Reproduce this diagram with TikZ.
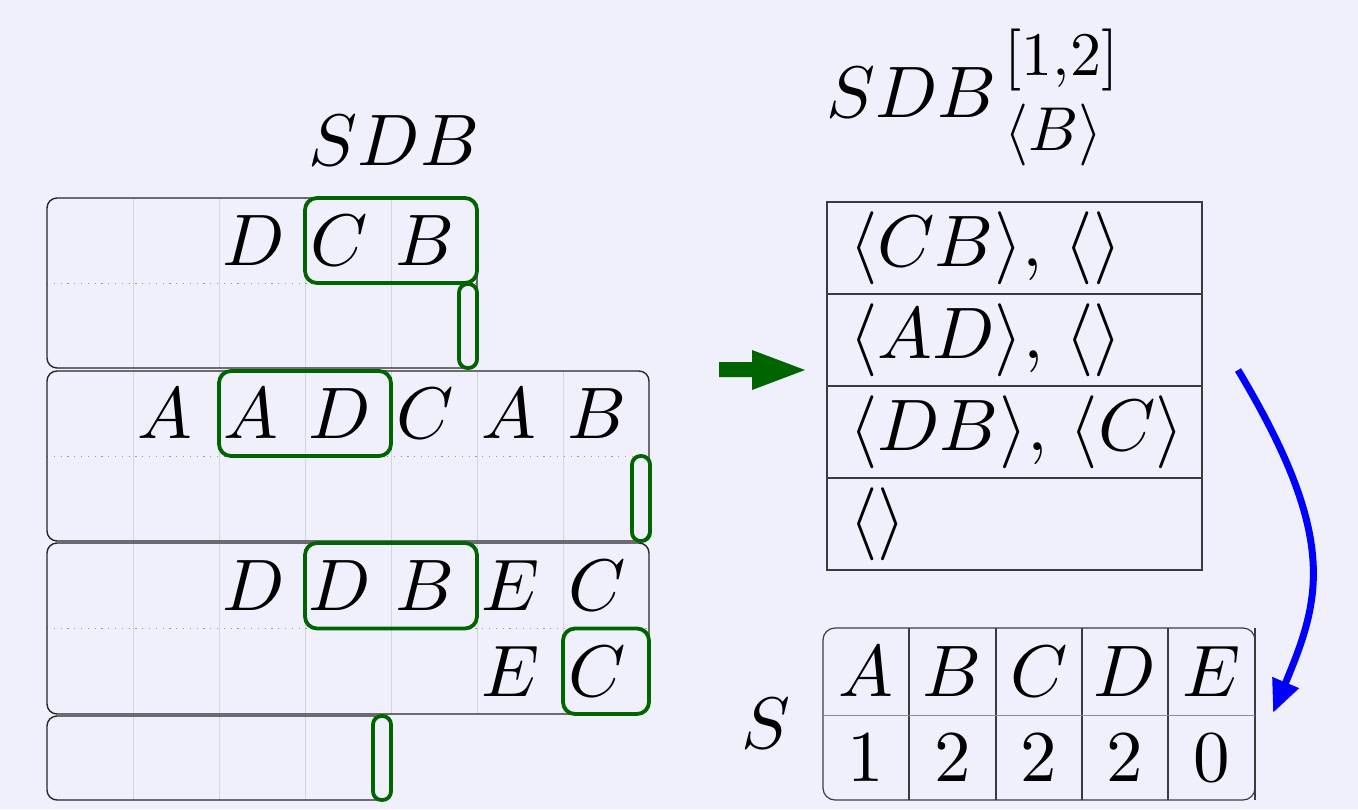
\RequirePackage{fix-cm}
\documentclass[tikz,border=0pt]{standalone}
\usetikzlibrary{arrows.meta}
% large glyphs drawn from the 10pt design sizes
\DeclareFontShape{OML}{cmm}{m}{it}{<->cmmi10}{}
\DeclareFontShape{OMS}{cmsy}{m}{n}{<->cmsy10}{}
\DeclareFontShape{OT1}{cmr}{m}{n}{<->cmr10}{}

\definecolor{bg}{RGB}{240,240,252}
\definecolor{seqgreen}{RGB}{0,100,0}
\definecolor{gridgray}{RGB}{212,212,222}
\definecolor{rulegray}{RGB}{60,60,60}
\newcommand\hugemath{\fontsize{73}{88}\selectfont}
\newcommand\scriptmath{\fontsize{62}{70}\selectfont}

\begin{document}
\begin{tikzpicture}[x=1pt,y=-1pt,
  every node/.style={inner sep=0pt, font=\hugemath},
  item/.style={anchor=base},
  blockframe/.style={draw=black!85, line width=1.4pt, rounded corners=10pt},
  gridline/.style={draw=gridgray, line width=0.9pt},
  midline/.style={draw=black!40, line width=0.9pt, dash pattern=on 1.2pt off 5.6pt},
  hit/.style={draw=seqgreen, line width=3.8pt, rounded corners=12pt},
  endmark/.style={draw=seqgreen, line width=3.8pt, rounded corners=8.5pt},
  tablerule/.style={draw=rulegray, line width=1.2pt},
]
% canvas
\fill[bg] (0,0) rectangle (1358,809);
\useasboundingbox (0,0) rectangle (1358,809);

% ---------- sequence database: column grid ----------
\foreach \x in {133,219,305,391} \draw[gridline] (\x,198) -- (\x,368);
\foreach \x in {133,219,305,391,477,563} {
  \draw[gridline] (\x,371) -- (\x,541);
  \draw[gridline] (\x,543) -- (\x,714);
}
\foreach \x in {133,219,305} \draw[gridline] (\x,716) -- (\x,800);

% separators between the two itemset rows
\draw[midline] (47,283) -- (477,283);
\draw[midline] (47,456) -- (649,456);
\draw[midline] (47,628.5) -- (649,628.5);

% one frame per sequence
\draw[blockframe] (47,198) rectangle (477,368);
\draw[blockframe] (47,371) rectangle (649,541);
\draw[blockframe] (47,543) rectangle (649,714);
\draw[blockframe] (47,716) rectangle (391,800);

% title
\node[item] (sdb) at (394,165) {$SDB$};

% sequence 1
\node[item] (s1c3) at (254,265.5) {$D$};
\node[item] (s1c4) at (339,265.5) {$C$};
\node[item] (s1c5) at (425,265.5) {$B$};

% sequence 2
\node[item] (s2c2) at (165,438.5) {$A$};
\node[item] (s2c3) at (251,438.5) {$A$};
\node[item] (s2c4) at (340,438.5) {$D$};
\node[item] (s2c5) at (425,438.5) {$C$};
\node[item] (s2c6) at (509,438.5) {$A$};
\node[item] (s2c7) at (597,438.5) {$B$};

% sequence 3
\node[item] (s3c3) at (254,610.5) {$D$};
\node[item] (s3c4) at (340,610.5) {$D$};
\node[item] (s3c5) at (425,610.5) {$B$};
\node[item] (s3c6) at (511,610.5) {$E$};
\node[item] (s3c7) at (597,610.5) {$C$};
\node[item] (s3d6) at (511,696) {$E$};
\node[item] (s3d7) at (597,696) {$C$};

% highlighted occurrences and end markers
\draw[hit] (305,198) rectangle (477,283);
\draw[endmark] (459,284) rectangle (477,368);
\draw[hit] (219,371) rectangle (391,456);
\draw[endmark] (632,456) rectangle (650,541);
\draw[hit] (305,543) rectangle (477,628.5);
\draw[hit] (563,628.5) rectangle (649,714);
\draw[endmark] (373,716) rectangle (391,800);

% ---------- projection arrow ----------
\fill[seqgreen] (719,362) -- (752,362) -- (752,350) -- (805,370)
  -- (752,390) -- (752,377) -- (719,377) -- cycle;

% ---------- projected database ----------
\node[anchor=base west] (proj) at (826,117)
  {$SDB$\kern8pt\rlap{\raisebox{42pt}{\scriptmath$[1{,}2]$}}\raisebox{-33pt}{\scriptmath$\langle B\rangle$}};
\draw[tablerule] (827,202) rectangle (1202,570);
\foreach \y in {294,386,478} \draw[tablerule] (827,\y) -- (1202,\y);
\node[anchor=base west] (p1) at (849,266) {$\langle CB\rangle,$ $\langle\rangle$};
\node[anchor=base west] (p2) at (849,358) {$\langle AD\rangle,$ $\langle\rangle$};
\node[anchor=base west] (p3) at (849,450) {$\langle DB\rangle,$ $\langle C\rangle$};
\node[anchor=base west] (p4) at (849,542) {$\langle\rangle$};

% ---------- support counts ----------
\draw[tablerule, rounded corners=12pt] (823,628) rectangle (1255,800);
\draw[tablerule] (1255,628) -- (1255,800);
\foreach \x in {909,996,1082,1168} \draw[tablerule] (\x,628) -- (\x,800);
\draw[draw=black!45, line width=1pt] (823,715) -- (1255,715);
\node[item] (slabel) at (766,748) {$S$};
\node[item] (hA) at (866,696.5) {$A$};
\node[item] (hB) at (952.5,696.5) {$B$};
\node[item] (hC) at (1039,696.5) {$C$};
\node[item] (hD) at (1125,696.5) {$D$};
\node[item] (hE) at (1211.5,696.5) {$E$};
\node[item] (vA) at (866,781) {$1$};
\node[item] (vB) at (952.5,781) {$2$};
\node[item] (vC) at (1039,781) {$2$};
\node[item] (vD) at (1125,781) {$2$};
\node[item] (vE) at (1211.5,781) {$0$};

% counting arrow
\coordinate (countfrom) at (1238,370);
\coordinate (countto) at (1273,713);
\draw[blue, line width=7pt, -{Triangle[length=33pt,width=27pt]}]
  (countfrom) .. controls (1340,540) and (1320,600) .. (countto);
\end{tikzpicture}
\end{document}
